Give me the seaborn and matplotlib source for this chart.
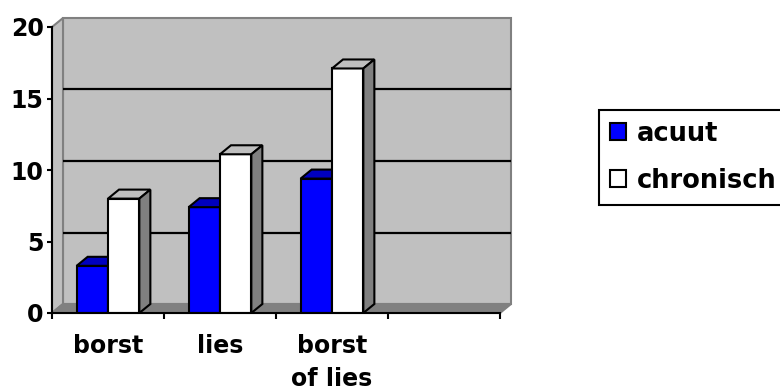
import numpy as np
import pandas as pd
import matplotlib
matplotlib.use("Agg")
import matplotlib.pyplot as plt
import matplotlib.colors as mcolors
from matplotlib.patches import Polygon
from matplotlib.ticker import FixedLocator
import seaborn as sns

# --- data -------------------------------------------------------------
categories = ["borst", "lies", "borst\nof lies"]
series = ["acuut", "chronisch"]
acuut = [3.3, 7.4, 9.4]
chronisch = [8.0, 11.1, 17.1]
y_ticks = [0, 5, 10, 15, 20]

df = pd.DataFrame({
    "categorie": categories * 2,
    "reeks": [series[0]] * len(categories) + [series[1]] * len(categories),
    "waarde": acuut + chronisch,
})

# --- style ------------------------------------------------------------
sns.set_style("ticks")
plt.rcParams["font.family"] = ["DejaVu Sans"]
plt.rcParams["font.weight"] = "bold"
plt.rcParams["font.size"] = 17
for key in ("text.color", "axes.labelcolor", "xtick.color", "ytick.color",
            "xtick.labelcolor", "ytick.labelcolor"):
    plt.rcParams[key] = "black"

WALL = "#C0C0C0"
EDGE = "#808080"
FLOOR = "#808080"
DEPTH_PX = (11, 9)          # pseudo-3D depth offset in pixels
palette = {"acuut": "#0000FF", "chronisch": "#FFFFFF"}

fig = plt.figure(figsize=(7.8, 3.92), dpi=100)
ax = fig.add_axes([52 / 780, 79 / 392, 448 / 780, 286 / 392])
ax.set_facecolor("none")

sns.barplot(data=df, x="categorie", y="waarde", hue="reeks",
            order=categories, hue_order=series, palette=palette,
            width=0.56, gap=0, saturation=1, errorbar=None,
            edgecolor="black", linewidth=1.5, ax=ax)

ax.set_xlim(-0.5, len(categories) + 0.5)
ax.set_ylim(y_ticks[0], y_ticks[-1])
x0, x1 = ax.get_xlim()
y0, y1 = ax.get_ylim()
bb = ax.get_window_extent()
ddx = DEPTH_PX[0] * (x1 - x0) / bb.width
ddy = DEPTH_PX[1] * (y1 - y0) / bb.height


def face(pts, fc, ec, z, lw=1.5):
    ax.add_patch(Polygon(pts, closed=True, facecolor=fc, edgecolor=ec,
                         linewidth=lw, zorder=z, clip_on=False,
                         joinstyle="miter"))


def shade(color, f):
    r, g, b = mcolors.to_rgb(color)
    return (r * f, g * f, b * f)


# back wall, side wall and floor
face([(x0 + ddx, y0 + ddy), (x1 + ddx, y0 + ddy),
      (x1 + ddx, y1 + ddy), (x0 + ddx, y1 + ddy)], WALL, EDGE, 0.5)
face([(x0, y0), (x0 + ddx, y0 + ddy), (x0 + ddx, y1 + ddy), (x0, y1)],
     WALL, EDGE, 0.6)
for v in y_ticks[1:-1]:
    ax.plot([x0 + ddx, x1 + ddx], [v + ddy, v + ddy], color="black",
            lw=1.6, zorder=0.8, clip_on=False, solid_capstyle="butt")
face([(x0, y0), (x1, y0), (x1 + ddx, y0 + ddy), (x0 + ddx, y0 + ddy)],
     FLOOR, EDGE, 0.9)

# top and side faces of the bars
for i, cont in enumerate(ax.containers):
    z = 3 + i
    for bar in cont:
        bx0 = bar.get_x()
        bx1 = bx0 + bar.get_width()
        h = bar.get_height()
        col = bar.get_facecolor()
        bar.set_zorder(z)
        face([(bx0, h), (bx1, h), (bx1 + ddx, h + ddy), (bx0 + ddx, h + ddy)],
             shade(col, 0.75), "black", z)
        face([(bx1, 0), (bx1, h), (bx1 + ddx, h + ddy), (bx1 + ddx, ddy)],
             shade(col, 0.5), "black", z)

# axes and ticks
for s in ("top", "right"):
    ax.spines[s].set_visible(False)
for s in ("left", "bottom"):
    ax.spines[s].set_color("black")
    ax.spines[s].set_linewidth(1.5)
    ax.spines[s].set_zorder(6)

ax.set_yticks(y_ticks)
ax.tick_params(axis="y", direction="out", length=3.6, width=1.5,
               pad=2.5, labelsize=17, colors="black")
ax.xaxis.set_minor_locator(FixedLocator(np.arange(x0, x1 + 0.01, 1.0)))
ax.tick_params(axis="x", which="major", length=0, pad=15, labelsize=17,
               labelcolor="black")
ax.tick_params(axis="x", which="minor", direction="out", length=4.3,
               width=1.5, color="black")
plt.setp(ax.get_xticklabels(), linespacing=1.5)
for t in ax.get_yticklabels() + ax.get_xticklabels():
    t.set_fontweight("bold")
    t.set_color("black")
ax.set_xlabel("")
ax.set_ylabel("")

# legend
old = ax.get_legend()
handles = list(old.legend_handles)
labels = [t.get_text() for t in old.get_texts()]
old.remove()
for hnd in handles:
    hnd.set_edgecolor("black")
    hnd.set_linewidth(1.5)
leg = fig.legend(handles, labels, loc="upper left",
                 bbox_to_anchor=(599 / 780, 1 - 110 / 392),
                 bbox_transform=fig.transFigure, borderaxespad=0,
                 frameon=True, fancybox=False, shadow=False,
                 handlelength=0.62, handleheight=0.62, handletextpad=0.45,
                 labelspacing=0.82, borderpad=0.42,
                 prop={"weight": "bold", "size": 18.5})
leg.get_frame().set_edgecolor("black")
leg.get_frame().set_linewidth(1.5)
leg.get_frame().set_alpha(1)
for t in leg.get_texts():
    t.set_color("black")

fig.savefig("out.png", dpi=100)
